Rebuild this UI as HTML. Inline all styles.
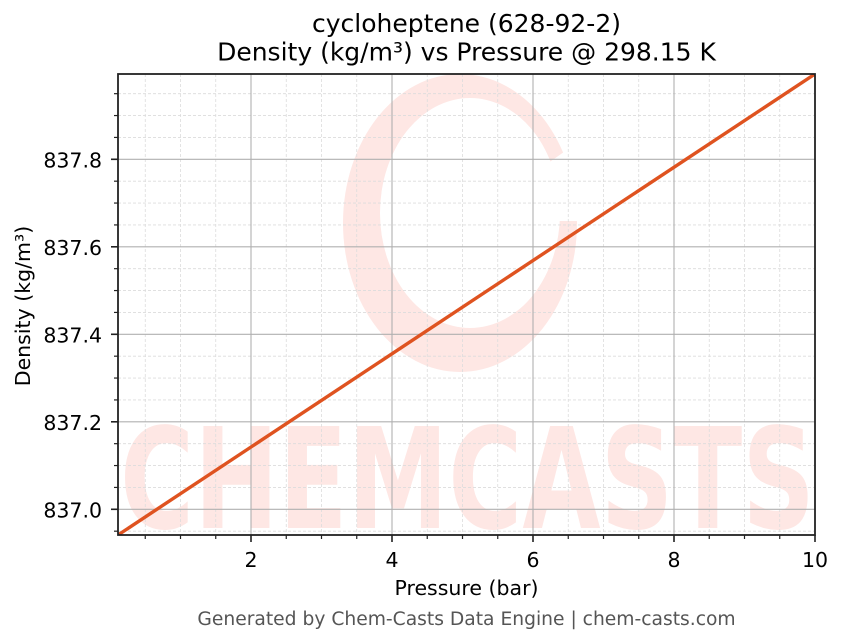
<!DOCTYPE html>
<html>
<head>
<meta charset="utf-8">
<style>
  html, body { margin: 0; padding: 0; background: #ffffff; }
  svg { display: block; }
  text { font-family: "DejaVu Sans", "Liberation Sans", sans-serif; }
</style>
</head>
<body>
<svg width="843" height="644" viewBox="0 0 843 644" xmlns="http://www.w3.org/2000/svg">
  <defs>
    <clipPath id="axclip">
      <rect x="118" y="74" width="697" height="461"/>
    </clipPath>
  </defs>
  <rect x="0" y="0" width="843" height="644" fill="#ffffff"/>

  <!-- Title -->
  <text x="466.5" y="32" font-size="25" text-anchor="middle" fill="#000">cycloheptene (628-92-2)</text>
  <text x="466.5" y="60.5" font-size="25" text-anchor="middle" fill="#000">Density (kg/m³) vs Pressure @ 298.15 K</text>

  <!-- Watermark -->
  <g clip-path="url(#axclip)">
    <path fill="#fee7e4" fill-rule="evenodd"
      d="M 343 223 A 117 149 0 1 0 577 223 A 117 149 0 1 0 343 223 Z
         M 380 213 A 90 115 0 1 0 560 213 A 90 115 0 1 0 380 213 Z"/>
    <polygon points="466,221 632,104 680,221 680,221" fill="#ffffff"/>
    <text x="120" y="528" font-size="140" font-weight="bold" fill="#fee7e4"
      textLength="695" lengthAdjust="spacingAndGlyphs"
      style="font-family:'DejaVu Sans','Liberation Sans',sans-serif;">CHEMCASTS</text>
  </g>

  <!-- Minor grid -->
  <g stroke="#dcdcdc" stroke-width="0.8" stroke-dasharray="3,2" fill="none">
    <line x1="145.25" y1="74" x2="145.25" y2="535"/>
    <line x1="180.5" y1="74" x2="180.5" y2="535"/>
    <line x1="215.75" y1="74" x2="215.75" y2="535"/>
    <line x1="286.25" y1="74" x2="286.25" y2="535"/>
    <line x1="321.5" y1="74" x2="321.5" y2="535"/>
    <line x1="356.75" y1="74" x2="356.75" y2="535"/>
    <line x1="427.25" y1="74" x2="427.25" y2="535"/>
    <line x1="462.5" y1="74" x2="462.5" y2="535"/>
    <line x1="497.75" y1="74" x2="497.75" y2="535"/>
    <line x1="568.25" y1="74" x2="568.25" y2="535"/>
    <line x1="603.5" y1="74" x2="603.5" y2="535"/>
    <line x1="638.75" y1="74" x2="638.75" y2="535"/>
    <line x1="709.25" y1="74" x2="709.25" y2="535"/>
    <line x1="744.5" y1="74" x2="744.5" y2="535"/>
    <line x1="779.75" y1="74" x2="779.75" y2="535"/>

    <line x1="118" y1="531.18" x2="815" y2="531.18"/>
    <line x1="118" y1="487.43" x2="815" y2="487.43"/>
    <line x1="118" y1="465.55" x2="815" y2="465.55"/>
    <line x1="118" y1="443.68" x2="815" y2="443.68"/>
    <line x1="118" y1="399.93" x2="815" y2="399.93"/>
    <line x1="118" y1="378.05" x2="815" y2="378.05"/>
    <line x1="118" y1="356.18" x2="815" y2="356.18"/>
    <line x1="118" y1="312.43" x2="815" y2="312.43"/>
    <line x1="118" y1="290.55" x2="815" y2="290.55"/>
    <line x1="118" y1="268.68" x2="815" y2="268.68"/>
    <line x1="118" y1="224.93" x2="815" y2="224.93"/>
    <line x1="118" y1="203.05" x2="815" y2="203.05"/>
    <line x1="118" y1="181.18" x2="815" y2="181.18"/>
    <line x1="118" y1="137.43" x2="815" y2="137.43"/>
    <line x1="118" y1="115.55" x2="815" y2="115.55"/>
    <line x1="118" y1="93.68" x2="815" y2="93.68"/>
  </g>

  <!-- Major grid -->
  <g stroke="#b0b0b0" stroke-width="1.1" fill="none">
    <line x1="251" y1="74" x2="251" y2="535"/>
    <line x1="392" y1="74" x2="392" y2="535"/>
    <line x1="533" y1="74" x2="533" y2="535"/>
    <line x1="674" y1="74" x2="674" y2="535"/>
    <line x1="118" y1="509.3" x2="815" y2="509.3"/>
    <line x1="118" y1="421.8" x2="815" y2="421.8"/>
    <line x1="118" y1="334.3" x2="815" y2="334.3"/>
    <line x1="118" y1="246.8" x2="815" y2="246.8"/>
    <line x1="118" y1="159.3" x2="815" y2="159.3"/>
  </g>

  <!-- Data line -->
  <g clip-path="url(#axclip)">
    <line x1="118" y1="535" x2="815" y2="74" stroke="#df5320" stroke-width="3.4" stroke-linecap="butt"/>
  </g>

  <!-- Spines -->
  <rect x="118" y="74" width="697" height="461" fill="none" stroke="#222" stroke-width="1.8"/>

  <!-- X ticks -->
  <g stroke="#222" stroke-width="1.6">
    <line x1="251" y1="535" x2="251" y2="542"/>
    <line x1="392" y1="535" x2="392" y2="542"/>
    <line x1="533" y1="535" x2="533" y2="542"/>
    <line x1="674" y1="535" x2="674" y2="542"/>
    <line x1="815" y1="535" x2="815" y2="542"/>
  </g>
  <g stroke="#222" stroke-width="1.2">
    <line x1="145.25" y1="535" x2="145.25" y2="539"/>
    <line x1="180.5" y1="535" x2="180.5" y2="539"/>
    <line x1="215.75" y1="535" x2="215.75" y2="539"/>
    <line x1="286.25" y1="535" x2="286.25" y2="539"/>
    <line x1="321.5" y1="535" x2="321.5" y2="539"/>
    <line x1="356.75" y1="535" x2="356.75" y2="539"/>
    <line x1="427.25" y1="535" x2="427.25" y2="539"/>
    <line x1="462.5" y1="535" x2="462.5" y2="539"/>
    <line x1="497.75" y1="535" x2="497.75" y2="539"/>
    <line x1="568.25" y1="535" x2="568.25" y2="539"/>
    <line x1="603.5" y1="535" x2="603.5" y2="539"/>
    <line x1="638.75" y1="535" x2="638.75" y2="539"/>
    <line x1="709.25" y1="535" x2="709.25" y2="539"/>
    <line x1="744.5" y1="535" x2="744.5" y2="539"/>
    <line x1="779.75" y1="535" x2="779.75" y2="539"/>
  </g>

  <!-- Y ticks -->
  <g stroke="#222" stroke-width="1.6">
    <line x1="111" y1="509.3" x2="118" y2="509.3"/>
    <line x1="111" y1="421.8" x2="118" y2="421.8"/>
    <line x1="111" y1="334.3" x2="118" y2="334.3"/>
    <line x1="111" y1="246.8" x2="118" y2="246.8"/>
    <line x1="111" y1="159.3" x2="118" y2="159.3"/>
  </g>
  <g stroke="#222" stroke-width="1.2">
    <line x1="114" y1="531.18" x2="118" y2="531.18"/>
    <line x1="114" y1="487.43" x2="118" y2="487.43"/>
    <line x1="114" y1="465.55" x2="118" y2="465.55"/>
    <line x1="114" y1="443.68" x2="118" y2="443.68"/>
    <line x1="114" y1="399.93" x2="118" y2="399.93"/>
    <line x1="114" y1="378.05" x2="118" y2="378.05"/>
    <line x1="114" y1="356.18" x2="118" y2="356.18"/>
    <line x1="114" y1="312.43" x2="118" y2="312.43"/>
    <line x1="114" y1="290.55" x2="118" y2="290.55"/>
    <line x1="114" y1="268.68" x2="118" y2="268.68"/>
    <line x1="114" y1="224.93" x2="118" y2="224.93"/>
    <line x1="114" y1="203.05" x2="118" y2="203.05"/>
    <line x1="114" y1="181.18" x2="118" y2="181.18"/>
    <line x1="114" y1="137.43" x2="118" y2="137.43"/>
    <line x1="114" y1="115.55" x2="118" y2="115.55"/>
    <line x1="114" y1="93.68" x2="118" y2="93.68"/>
  </g>

  <!-- X tick labels -->
  <g font-size="20.5" fill="#000" text-anchor="middle">
    <text x="251" y="567">2</text>
    <text x="392" y="567">4</text>
    <text x="533" y="567">6</text>
    <text x="674" y="567">8</text>
    <text x="815" y="567">10</text>
  </g>

  <!-- Y tick labels -->
  <g font-size="20.5" fill="#000" text-anchor="end">
    <text x="102" y="517.3">837.0</text>
    <text x="102" y="429.8">837.2</text>
    <text x="102" y="342.3">837.4</text>
    <text x="102" y="254.8">837.6</text>
    <text x="102" y="167.3">837.8</text>
  </g>

  <!-- Axis labels -->
  <text x="466.5" y="595" font-size="20.5" text-anchor="middle" fill="#000">Pressure (bar)</text>
  <text transform="translate(30,306) rotate(-90)" x="0" y="0" font-size="20.5" text-anchor="middle" fill="#000">Density (kg/m³)</text>

  <!-- Footer -->
  <text x="466.5" y="625" font-size="18.7" text-anchor="middle" fill="#555">Generated by Chem-Casts Data Engine | chem-casts.com</text>
</svg>
</body>
</html>
